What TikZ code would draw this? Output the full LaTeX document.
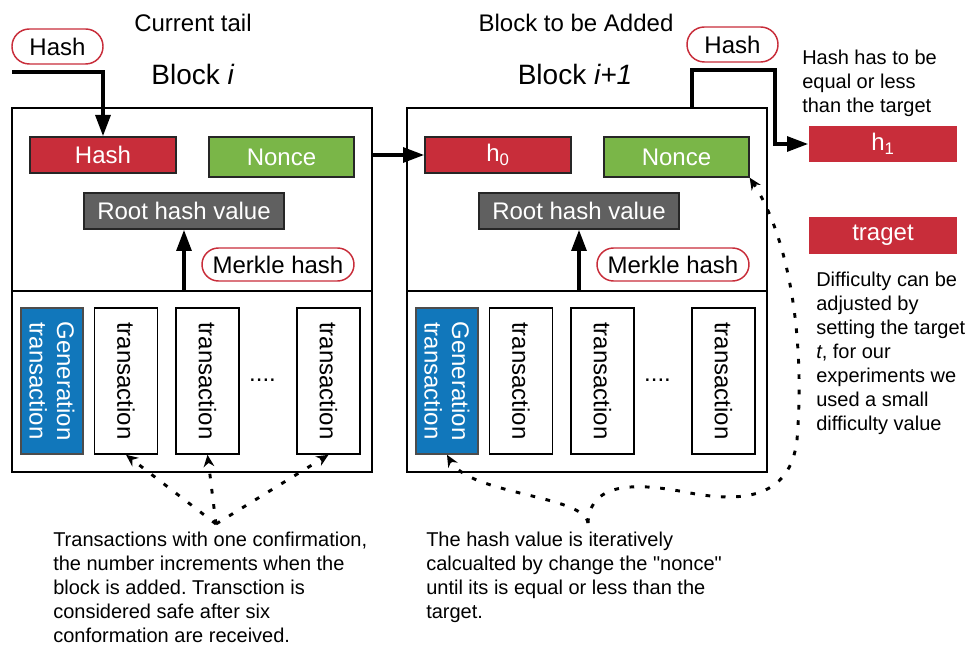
\documentclass[tikz,border=0pt]{standalone}
\usepackage{fontspec}
\setmainfont{Liberation Sans}
\usetikzlibrary{arrows.meta, calc}
\frenchspacing

\definecolor{hashred}{RGB}{200,45,58}
\definecolor{noncegreen}{RGB}{122,182,72}
\definecolor{rootgray}{RGB}{96,96,96}
\definecolor{genblue}{RGB}{17,119,187}

\begin{document}
\begin{tikzpicture}[
    x=0.75pt, y=-0.75pt,
    >=Stealth,
    heading/.style={font=\fontsize{18}{21}\selectfont, inner sep=0pt, anchor=base},
    blocktitle/.style={font=\fontsize{21}{25}\selectfont, inner sep=0pt, anchor=base},
    part/.style={draw, line width=1.5pt, minimum width=270pt, inner sep=0pt},
    field/.style={draw=black!85, line width=1pt, text=white, inner sep=0pt,
                  font=\fontsize{18}{21}\selectfont},
    tag/.style={draw=hashred, line width=1.1pt, fill=white, inner sep=0pt,
                font=\fontsize{18}{21}\selectfont},
    txbox/.style={draw, line width=1.2pt, rotate=-90, inner sep=0pt,
                  minimum width=109.5pt, minimum height=47.5pt, align=center,
                  font=\fontsize{18}{20.7}\selectfont},
    note/.style={font=\fontsize{15}{18}\selectfont, align=left,
                 anchor=north west, inner sep=0pt},
    flow/.style={line width=3pt, -{Triangle[length=16pt,width=11pt]}},
    hint/.style={line width=2.2pt, dash pattern=on 3.5pt off 8pt,
                 -{Stealth[length=9pt,width=8pt]}}
]
\useasboundingbox (0,0) rectangle (968,648);

% headings
\node[heading] (tailhead) at (193,32) {Current tail};
\node[heading] (addhead) at (576,32) {Block to be Added};
\node[blocktitle] (ititle) at (193,85) {Block \textit{i}};
\node[blocktitle] (jtitle) at (575,85) {Block \textit{i+1}};

% the two blocks, the second one shifted right
\foreach \b/\dx/\prev in {a/0/Hash, b/395/{h\textsubscript{0}}} {
    \node[part, minimum height=137.25pt] (\b-top) at (192+\dx,199.5) {};
    \node[part, minimum height=135.75pt] (\b-bot) at (192+\dx,381.5) {};
    \node[field, fill=hashred, minimum width=109.5pt, minimum height=27pt]
        (\b-hash) at (103+\dx,155) {\prev};
    \node[field, fill=noncegreen, minimum width=108.75pt, minimum height=30pt]
        (\b-nonce) at (281.5+\dx,157) {Nonce};
    \node[field, fill=rootgray, minimum width=150pt, minimum height=27pt]
        (\b-root) at (184+\dx,211) {Root hash value};
    \node[tag, rounded corners=12.4pt, minimum width=114pt, minimum height=24.75pt]
        (\b-merkle) at (278+\dx,264.5) {Merkle hash};
    \draw[flow] (\b-root.south |- \b-bot.north) -- (\b-root.south);
    \node[txbox, fill=genblue, draw=black!70, text=white, minimum height=46.5pt]
        (\b-gen) at (52+\dx,381) {Generation\\transaction};
    \node[txbox] (\b-tx1) at (126+\dx,381) {transaction};
    \node[txbox] (\b-tx2) at (207.5+\dx,381) {transaction};
    \node[txbox] (\b-tx3) at (328.5+\dx,381) {transaction};
    \node[heading] (\b-dots) at (262.5+\dx,382) {....};
}

% incoming hash of the tail
\node[tag, rounded corners=13pt, minimum width=68.25pt, minimum height=26.25pt]
    (hin) at (57.5,46.5) {Hash};
\coordinate (tailin) at (12,72);
\draw[flow] (tailin) -| (a-hash.north);
\draw[flow] (a-top.east |- b-hash.west) -- (b-hash.west);

% outgoing hash compared with the target
\node[tag, rounded corners=13pt, minimum width=68.25pt, minimum height=26.25pt]
    (hout) at (732.5,44.5) {Hash};
\node[field, draw=none, fill=hashred, minimum width=111pt, minimum height=27pt]
    (h1) at (883,144) {h\textsubscript{1}};
\node[field, draw=none, fill=hashred, minimum width=111pt, minimum height=27.75pt]
    (target) at (883,235.5) {traget};
\draw[flow] ([xshift=78.75pt]b-top.north) |- ++(83,-37) |- (h1.west);

% notes
\node[note] (eqnote) at (802,50) {Hash has to be\\equal or less\\than the target};
\node[note] (diffnote) at (816,272) {Difficulty can be\\adjusted by\\setting the target\\
    \textit{t}, for our\\experiments we\\used a small\\difficulty value};
\node[note] (confnote) at (53,532) {Transactions with one confirmation,\\
    the number increments when the\\block is added. Transction is\\
    considered safe after six\\conformation are received.};
\node[note] (iternote) at (426,532) {The hash value is iteratively\\
    calcualted by change the \textquotedbl nonce\textquotedbl\\until its is equal or less than the\\target.};

% dotted pointers (rotated boxes: east is the bottom side)
\coordinate (conf) at (216,524);
\coordinate (iter) at (588,523);
\foreach \t in {tx1,tx2,tx3}
    \draw[hint] (conf) -- (a-\t.east);
\draw[hint] (iter) .. controls (584,495) and (470,495) .. (b-gen.east);
\draw[hint] (iter) .. controls (590,480) and (640,483) .. (690,493)
    .. controls (740,502) and (790,500) .. (797,440)
    .. controls (805,340) and (790,240) .. (b-nonce.south east);
\end{tikzpicture}
\end{document}
